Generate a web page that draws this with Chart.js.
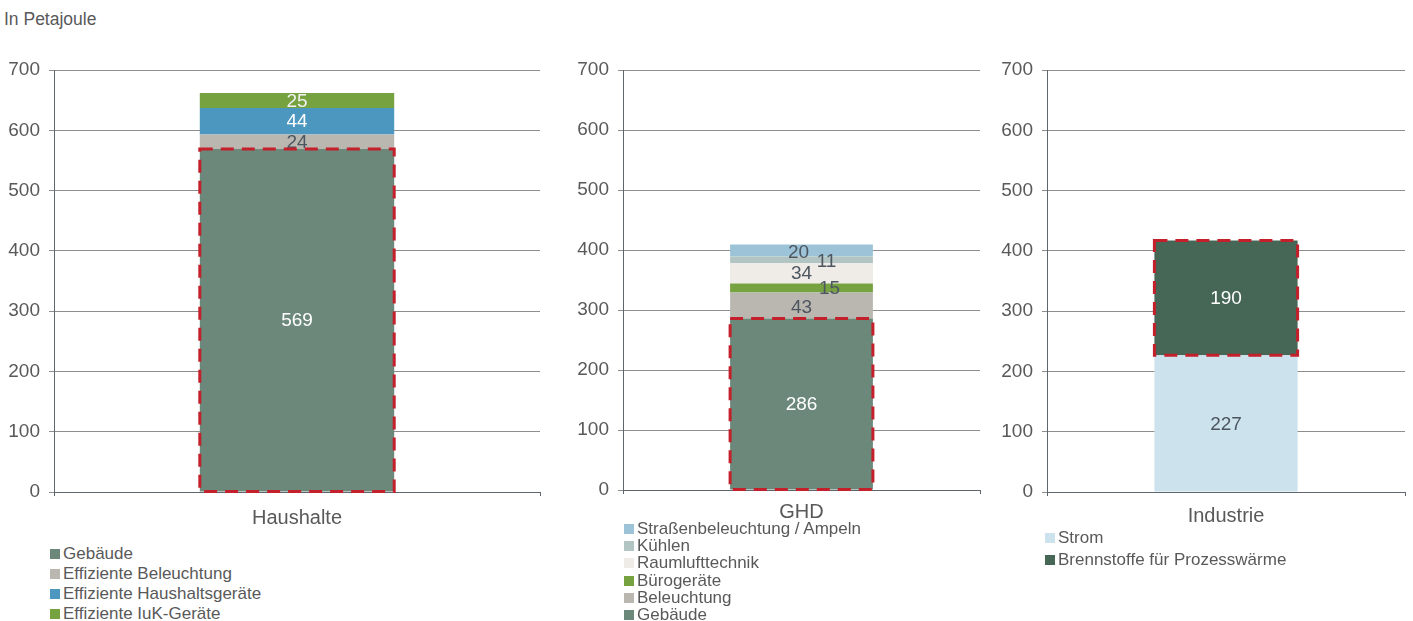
<!DOCTYPE html>
<html>
<head>
<meta charset="utf-8">
<script src="https://cdn.jsdelivr.net/npm/chart.js@4/dist/chart.umd.min.js"></script>
<style>
  html, body { margin: 0; padding: 0; background: #ffffff; }
  body { width: 1413px; height: 621px; position: relative; overflow: hidden; font-family: "Liberation Sans", Arial, sans-serif; }
  canvas { position: absolute; top: 0; }
  .unit { position: absolute; left: 4px; top: 9px; font-size: 17.5px; color: #595959; }
  .legend { position: absolute; font-size: 17px; color: #595959; }
  .legend div { position: relative; white-space: nowrap; }
  .legend span.sw { display: inline-block; width: 10px; height: 10px; margin-right: 3px; vertical-align: 0px; }
</style>
</head>
<body>
<div class="unit">In Petajoule</div>
<canvas id="c1" width="545" height="530" style="left:0px"></canvas>
<canvas id="c2" width="430" height="530" style="left:560px"></canvas>
<canvas id="c3" width="423" height="530" style="left:990px"></canvas>
<div class="legend" id="l1" style="left:50px; top:544px; line-height:20px"></div>
<div class="legend" id="l2" style="left:624px; top:520px; line-height:17.2px"></div>
<div class="legend" id="l3" style="left:1045px; top:527px; line-height:22px"></div>
<script>
// ---- Data ----
const yTicks = [0, 100, 200, 300, 400, 500, 600, 700];

const haushalteCategories = ['Haushalte'];
const haushalteSeries = ['Gebäude', 'Effiziente Beleuchtung', 'Effiziente Haushaltsgeräte', 'Effiziente IuK-Geräte'];
const haushalteValues = [569, 24, 44, 25];

const ghdCategories = ['GHD'];
const ghdSeries = ['Gebäude', 'Beleuchtung', 'Bürogeräte', 'Raumlufttechnik', 'Kühlen', 'Straßenbeleuchtung / Ampeln'];
const ghdValues = [286, 43, 15, 34, 11, 20];

const industrieCategories = ['Industrie'];
const industrieSeries = ['Strom', 'Brennstoffe für Prozesswärme'];
const industrieValues = [227, 190];

// ---- Styles ----
const DARK = '#4d5560';
const LIGHT = '#ffffff';
const haushalteColors = ['#6b887a', '#bab7b1', '#4b97bf', '#77a240'];
const haushalteLabelColors = [LIGHT, DARK, LIGHT, '#f2f2f2'];
const haushalteDashed = [0];

const ghdColors = ['#6b887a', '#bab7b1', '#77a240', '#efebe7', '#b3c5c3', '#9cc3d8'];
const ghdLabelColors = [LIGHT, DARK, DARK, DARK, DARK, DARK];
const ghdLabelOffsets = [[0,1], [0,2], [28,1], [0,0], [25,2], [-3,2]];
const ghdDashed = [0];

const industrieColors = ['#cce2ec', '#466656'];
const industrieLabelColors = [DARK, LIGHT];
const industrieDashed = [1];

const FONT = '"Liberation Sans", Arial, sans-serif';
const TEXT = '#595959';

const labelPlugin = {
  id: 'segLabels',
  afterDatasetsDraw(chart, args, opts) {
    const ctx = chart.ctx;
    ctx.save();
    ctx.font = '19px ' + FONT;
    ctx.textAlign = 'center';
    ctx.textBaseline = 'middle';
    chart.data.datasets.forEach((ds, i) => {
      const meta = chart.getDatasetMeta(i);
      meta.data.forEach((el, j) => {
        const v = ds.data[j];
        const off = (opts.offsets && opts.offsets[i]) || [0, 1];
        ctx.fillStyle = opts.colors[i];
        ctx.fillText(String(v), el.x + off[0], (el.y + el.base) / 2 + off[1]);
      });
    });
    ctx.restore();
  }
};

const dashPlugin = {
  id: 'dashBox',
  afterDatasetsDraw(chart, args, opts) {
    const ctx = chart.ctx;
    ctx.save();
    ctx.strokeStyle = '#c4202b';
    ctx.lineWidth = 3;
    ctx.setLineDash([13, 8]);
    (opts.indices || []).forEach(i => {
      const meta = chart.getDatasetMeta(i);
      meta.data.forEach(el => {
        const x0 = el.x - el.width / 2, x1 = el.x + el.width / 2;
        const y0 = Math.min(el.y, el.base), y1 = Math.max(el.y, el.base);
        ctx.strokeRect(x0, y0, x1 - x0, y1 - y0);
      });
    });
    ctx.restore();
  }
};

function makeChart(id, categories, series, values, colors, labelColors, offsets, dashed, yWidth, xHeight, xPad, padRight) {
  const datasets = series.map((name, i) => ({
    label: name,
    data: [values[i]],
    backgroundColor: colors[i],
    borderWidth: 0,
    categoryPercentage: 1.0,
    barPercentage: 0.4
  }));
  return new Chart(document.getElementById(id), {
    type: 'bar',
    data: { labels: categories, datasets },
    plugins: [labelPlugin, dashPlugin],
    options: {
      responsive: false,
      animation: false,
      layout: { padding: { top: 70, right: padRight, bottom: 0, left: 0 } },
      plugins: {
        legend: { display: false },
        tooltip: { enabled: false },
        segLabels: { colors: labelColors, offsets: offsets },
        dashBox: { indices: dashed }
      },
      scales: {
        x: {
          stacked: true,
          afterFit(s) { s.height = xHeight; },
          ticks: { color: TEXT, font: { family: FONT, size: 20 }, padding: xPad },
          grid: { display: true, drawOnChartArea: false, offset: true, tickLength: 4, color: '#5f6670' },
          border: { display: true, color: '#5f6670', width: 1 }
        },
        y: {
          stacked: true,
          min: yTicks[0],
          max: yTicks[yTicks.length - 1],
          afterFit(s) { s.width = yWidth; },
          afterBuildTicks(s) { s.ticks = yTicks.map(v => ({ value: v })); },
          ticks: { color: TEXT, font: { family: FONT, size: 19 }, padding: 9 },
          grid: { color: '#8e8e8e', lineWidth: 1, tickLength: 5 },
          border: { display: true, color: '#5f6670', width: 1 }
        }
      }
    }
  });
}

makeChart('c1', haushalteCategories, haushalteSeries, haushalteValues, haushalteColors, haushalteLabelColors, null, haushalteDashed, 54, 38, 10, 5);
makeChart('c2', ghdCategories, ghdSeries, ghdValues, ghdColors, ghdLabelColors, ghdLabelOffsets, ghdDashed, 63, 40, 6, 10);
makeChart('c3', industrieCategories, industrieSeries, industrieValues, industrieColors, industrieLabelColors, null, industrieDashed, 57, 38, 8, 8);

function buildLegend(id, names, colors, order) {
  const el = document.getElementById(id);
  order.forEach(i => {
    const row = document.createElement('div');
    const sw = document.createElement('span');
    sw.className = 'sw';
    sw.style.background = colors[i];
    row.appendChild(sw);
    row.appendChild(document.createTextNode(names[i]));
    el.appendChild(row);
  });
}
buildLegend('l1', haushalteSeries, haushalteColors, [0, 1, 2, 3]);
buildLegend('l2', ghdSeries, ghdColors, [5, 4, 3, 2, 1, 0]);
buildLegend('l3', industrieSeries, industrieColors, [0, 1]);
</script>
</body>
</html>
